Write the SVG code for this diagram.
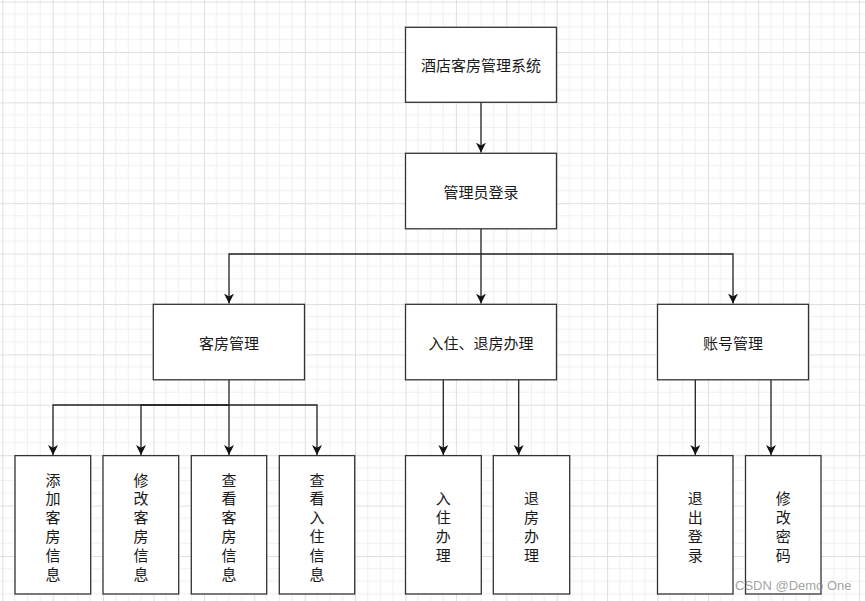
<svg xmlns="http://www.w3.org/2000/svg" width="865" height="601" viewBox="0 0 865 601">
<style>
.box{fill:#fff;stroke:#333;stroke-width:1.3}
.lbl{font-family:"Noto Sans CJK SC","Noto Sans",sans-serif;font-size:15px;fill:#1a1a1a;text-anchor:middle;dominant-baseline:central}
.con{fill:none;stroke:#222;stroke-width:1.3}
</style>
<defs>
<pattern id="grid" x="2.3" y="1.6" width="50.4" height="50.4" patternUnits="userSpaceOnUse">
<path d="M12.6 0V50.4M25.2 0V50.4M37.8 0V50.4M0 12.6H50.4M0 25.2H50.4M0 37.8H50.4" stroke="#f0f0f0" stroke-width="1" fill="none"/>
<path d="M0.5 0V50.4M0 0.5H50.4" stroke="#dedede" stroke-width="1" fill="none"/>
</pattern>
<marker id="arr" viewBox="0 0 10 10" refX="10" refY="5" markerWidth="10" markerHeight="10.5" markerUnits="userSpaceOnUse" orient="auto">
<path d="M0 0L10 5L0 10L2.8 5Z" fill="#111"/>
</marker>
</defs>
<rect width="865" height="601" fill="#fff"/>
<rect width="865" height="601" fill="url(#grid)"/>

<g id="connectors">
<path class="con" marker-end="url(#arr)" d="M481 102V152.6"/>
<path class="con" marker-end="url(#arr)" d="M481 229V303.6"/>
<path class="con" marker-end="url(#arr)" d="M481 254H229V303.6"/>
<path class="con" marker-end="url(#arr)" d="M481 254H733V303.6"/>
<path class="con" marker-end="url(#arr)" d="M229 379.5V455"/>
<path class="con" marker-end="url(#arr)" d="M229 405H53V455"/>
<path class="con" marker-end="url(#arr)" d="M229 405H141V455"/>
<path class="con" marker-end="url(#arr)" d="M229 405H317V455"/>
<path class="con" marker-end="url(#arr)" d="M443.3 379.5V455"/>
<path class="con" marker-end="url(#arr)" d="M518.7 379.5V455"/>
<path class="con" marker-end="url(#arr)" d="M695.3 379.5V455"/>
<path class="con" marker-end="url(#arr)" d="M771 379.5V455"/>
</g>

<g id="n-system"><rect class="box" x="405.5" y="27.3" width="151" height="75"/><text class="lbl" x="481" y="64.8">酒店客房管理系统</text></g>
<g id="n-login"><rect class="box" x="405.5" y="153.3" width="151" height="75.5"/><text class="lbl" x="481" y="191">管理员登录</text></g>
<g id="n-room"><rect class="box" x="153.3" y="304.3" width="151.2" height="75.5"/><text class="lbl" x="229" y="342">客房管理</text></g>
<g id="n-checkin"><rect class="box" x="405.5" y="304.3" width="151" height="75.5"/><text class="lbl" x="481" y="342">入住、退房办理</text></g>
<g id="n-account"><rect class="box" x="657.5" y="304.3" width="151" height="75.5"/><text class="lbl" x="733" y="342">账号管理</text></g>

<g id="n-add"><rect class="box" x="15" y="455.6" width="75.7" height="138.4"/>
<text class="lbl" x="53"><tspan x="53" y="478.5">添</tspan><tspan x="53" y="497.3">加</tspan><tspan x="53" y="516.1">客</tspan><tspan x="53" y="534.9">房</tspan><tspan x="53" y="553.7">信</tspan><tspan x="53" y="572.5">息</tspan></text></g>
<g id="n-edit"><rect class="box" x="103" y="455.6" width="75.7" height="138.4"/>
<text class="lbl" x="141"><tspan x="141" y="478.5">修</tspan><tspan x="141" y="497.3">改</tspan><tspan x="141" y="516.1">客</tspan><tspan x="141" y="534.9">房</tspan><tspan x="141" y="553.7">信</tspan><tspan x="141" y="572.5">息</tspan></text></g>
<g id="n-view"><rect class="box" x="191.3" y="455.6" width="75.4" height="138.4"/>
<text class="lbl" x="229"><tspan x="229" y="478.5">查</tspan><tspan x="229" y="497.3">看</tspan><tspan x="229" y="516.1">客</tspan><tspan x="229" y="534.9">房</tspan><tspan x="229" y="553.7">信</tspan><tspan x="229" y="572.5">息</tspan></text></g>
<g id="n-viewin"><rect class="box" x="279.3" y="455.6" width="75.4" height="138.4"/>
<text class="lbl" x="317"><tspan x="317" y="478.5">查</tspan><tspan x="317" y="497.3">看</tspan><tspan x="317" y="516.1">入</tspan><tspan x="317" y="534.9">住</tspan><tspan x="317" y="553.7">信</tspan><tspan x="317" y="572.5">息</tspan></text></g>

<g id="n-in"><rect class="box" x="405.5" y="455.6" width="75.8" height="138.4"/>
<text class="lbl" x="443.3"><tspan x="443.3" y="497.3">入</tspan><tspan x="443.3" y="516.1">住</tspan><tspan x="443.3" y="534.9">办</tspan><tspan x="443.3" y="553.7">理</tspan></text></g>
<g id="n-out"><rect class="box" x="493.3" y="455.6" width="76.4" height="138.4"/>
<text class="lbl" x="531.5"><tspan x="531.5" y="497.3">退</tspan><tspan x="531.5" y="516.1">房</tspan><tspan x="531.5" y="534.9">办</tspan><tspan x="531.5" y="553.7">理</tspan></text></g>

<g id="n-logout"><rect class="box" x="657.5" y="455.6" width="75.5" height="138.4"/>
<text class="lbl" x="695.3"><tspan x="695.3" y="497.3">退</tspan><tspan x="695.3" y="516.1">出</tspan><tspan x="695.3" y="534.9">登</tspan><tspan x="695.3" y="553.7">录</tspan></text></g>
<g id="n-pwd"><rect class="box" x="745.5" y="455.6" width="75.5" height="138.4"/>
<text class="lbl" x="783.3"><tspan x="783.3" y="497.3">修</tspan><tspan x="783.3" y="516.1">改</tspan><tspan x="783.3" y="534.9">密</tspan><tspan x="783.3" y="553.7">码</tspan></text></g>

<text x="735" y="590" font-family="Liberation Sans, Arial, sans-serif" font-size="13" fill="#8a8a8a" fill-opacity="0.8">CSDN @Demo One</text>
</svg>
